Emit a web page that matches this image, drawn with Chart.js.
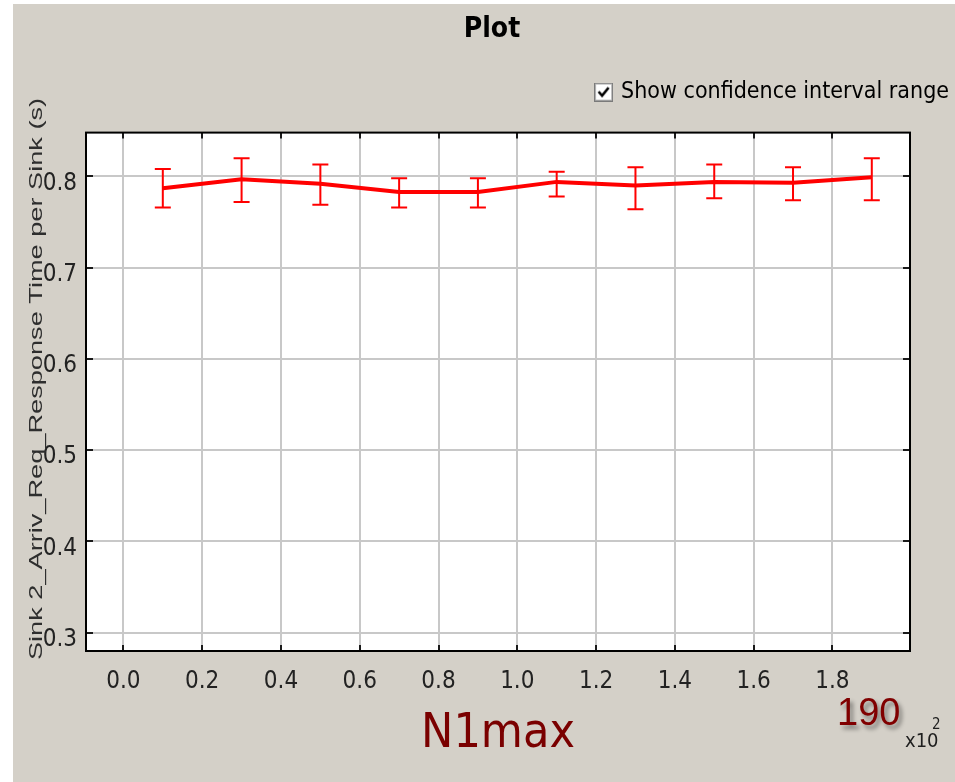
<!DOCTYPE html>
<html>
<head>
<meta charset="utf-8">
<title>Plot</title>
<script src="https://cdn.jsdelivr.net/npm/chart.js@4.4.1/dist/chart.umd.min.js"></script>
<style>
  html, body { margin: 0; padding: 0; background: #ffffff; }
</style>
</head>
<body>
<canvas id="chart" width="955" height="782"></canvas>
<script>
// N1max values of the runs (axis shown in units of x10^2)
const n1max = [0.1, 0.3, 0.5, 0.7, 0.9, 1.1, 1.3, 1.5, 1.7, 1.9];
// mean response time per sink (s)
const meanTime = [0.787, 0.797, 0.792, 0.783, 0.783, 0.794, 0.790, 0.794, 0.793, 0.799];
// confidence interval range
const ciLow  = [0.766, 0.772, 0.769, 0.766, 0.766, 0.778, 0.764, 0.776, 0.774, 0.774];
const ciHigh = [0.808, 0.820, 0.813, 0.798, 0.798, 0.805, 0.810, 0.813, 0.810, 0.820];
// tick labels
const xTicks = [0.0, 0.2, 0.4, 0.6, 0.8, 1.0, 1.2, 1.4, 1.6, 1.8];
const yTicks = [0.3, 0.4, 0.5, 0.6, 0.7, 0.8];

const yTitle = "Sink 2_Arriv_Req_Response Time per Sink (s)";
const xTitle = "N1max";
const maxLabel = "190";
const legendText = "Show confidence interval range";

const NARROW = '"Liberation Sans Narrow", "DejaVu Sans Condensed", sans-serif';
const SANS = '"Liberation Sans", Arial, sans-serif';

// little checked box for the legend
function makeCheckbox() {
  const c = document.createElement("canvas");
  c.width = 19; c.height = 19;
  const g = c.getContext("2d");
  g.fillStyle = "#ffffff";
  g.fillRect(0, 0, 19, 19);
  g.strokeStyle = "#7a7a7a";
  g.lineWidth = 1;
  g.strokeRect(0.5, 0.5, 18, 18);
  g.strokeStyle = "#b8b8b8";
  g.strokeRect(1.5, 1.5, 16, 16);
  g.strokeStyle = "#000000";
  g.lineWidth = 2.6;
  g.beginPath();
  g.moveTo(4.5, 9);
  g.lineTo(8, 13);
  g.lineTo(14.5, 5);
  g.stroke();
  return c;
}
const checkbox = makeCheckbox();

const plotFrame = {
  id: "plotFrame",
  beforeDraw(chart) {
    const { ctx, chartArea: a } = chart;
    ctx.save();
    ctx.fillStyle = "#ffffff";
    ctx.fillRect(0, 0, chart.width, chart.height);
    ctx.fillStyle = "#d4d0c8";
    ctx.fillRect(13, 4, chart.width - 13, chart.height - 4);
    ctx.fillStyle = "#ffffff";
    ctx.fillRect(a.left, a.top, a.right - a.left, a.bottom - a.top);
    ctx.restore();
  },
  afterDatasetsDraw(chart) {
    const { ctx } = chart;
    const xs = chart.scales.x, ys = chart.scales.y;
    ctx.save();
    ctx.strokeStyle = "#ff0000";
    ctx.lineWidth = 2;
    for (let i = 0; i < n1max.length; i++) {
      const px = xs.getPixelForValue(n1max[i]);
      const top = ys.getPixelForValue(ciHigh[i]);
      const bot = ys.getPixelForValue(ciLow[i]);
      ctx.beginPath();
      ctx.moveTo(px, top); ctx.lineTo(px, bot);
      ctx.moveTo(px - 8, top); ctx.lineTo(px + 8, top);
      ctx.moveTo(px - 8, bot); ctx.lineTo(px + 8, bot);
      ctx.stroke();
    }
    ctx.restore();
  },
  afterDraw(chart) {
    const { ctx, chartArea: a } = chart;
    const xs = chart.scales.x, ys = chart.scales.y;
    ctx.save();
    // inward tick marks
    ctx.strokeStyle = "#1a1a1a";
    ctx.lineWidth = 2;
    ctx.beginPath();
    xs.ticks.forEach(t => {
      const px = Math.round(xs.getPixelForValue(t.value));
      ctx.moveTo(px, a.top); ctx.lineTo(px, a.top + 6);
      ctx.moveTo(px, a.bottom); ctx.lineTo(px, a.bottom - 6);
    });
    ys.ticks.forEach(t => {
      const py = Math.round(ys.getPixelForValue(t.value));
      ctx.moveTo(a.left, py); ctx.lineTo(a.left + 7, py);
      ctx.moveTo(a.right, py); ctx.lineTo(a.right - 7, py);
    });
    ctx.stroke();
    // frame
    ctx.strokeStyle = "#000000";
    ctx.lineWidth = 2;
    ctx.strokeRect(a.left, a.top, a.right - a.left, a.bottom - a.top);

    // y axis title, stretched like the original
    ctx.save();
    ctx.translate(37, 379);
    ctx.rotate(-Math.PI / 2);
    ctx.scale(1.43, 1);
    ctx.fillStyle = "#2e2e2e";
    ctx.font = "19px " + SANS;
    ctx.textAlign = "center";
    ctx.textBaseline = "middle";
    ctx.fillText(yTitle, 0, 0);
    ctx.restore();

    // "190" marker with its shadow
    ctx.save();
    ctx.font = "38px " + SANS;
    ctx.fillStyle = "#800000";
    ctx.textAlign = "left";
    ctx.textBaseline = "alphabetic";
    ctx.shadowColor = "rgba(0,0,0,0.4)";
    ctx.shadowOffsetX = 3;
    ctx.shadowOffsetY = 4;
    ctx.shadowBlur = 4;
    ctx.fillText(maxLabel, 837, 725);
    ctx.restore();

    // x10^2 multiplier
    ctx.fillStyle = "#1e1e1e";
    ctx.textAlign = "left";
    ctx.textBaseline = "alphabetic";
    ctx.font = "20px " + NARROW;
    ctx.fillText("x10", 905, 747);
    ctx.font = "15px " + NARROW;
    ctx.fillText("2", 932, 729);
    ctx.restore();
  }
};

const config = {
  type: "line",
  data: {
    datasets: [
      {
        label: yTitle,
        data: n1max.map((v, i) => ({ x: v, y: meanTime[i] })),
        borderColor: "#ff0000",
        backgroundColor: "#ff0000",
        borderWidth: 4,
        pointRadius: 0,
        tension: 0,
        fill: false
      }
    ]
  },
  options: {
    responsive: false,
    animation: false,
    devicePixelRatio: 1,
    layout: { padding: { left: 29, right: 0, top: 0, bottom: 0 } },
    plugins: {
      title: {
        display: true,
        text: "Plot",
        color: "#000000",
        font: { family: NARROW, size: 28, weight: "bold" },
        padding: { top: 13, bottom: 28 }
      },
      legend: {
        display: true,
        position: "top",
        align: "end",
        onClick: null,
        labels: {
          usePointStyle: true,
          boxWidth: 12,
          padding: 6,
          color: "#141414",
          font: { family: NARROW, size: 23 },
          generateLabels: () => [{
            text: legendText,
            pointStyle: checkbox,
            fillStyle: "#ffffff",
            strokeStyle: "#000000",
            lineWidth: 0,
            hidden: false,
            datasetIndex: 0
          }]
        }
      },
      tooltip: { enabled: false }
    },
    scales: {
      x: {
        type: "linear",
        min: -0.095,
        max: 1.997,
        afterBuildTicks: s => { s.ticks = xTicks.map(v => ({ value: v })); },
        afterFit: s => { s.height = 131; },
        grid: { color: "#c8c8c8", lineWidth: 2, drawTicks: false },
        border: { display: false },
        ticks: {
          callback: v => v.toFixed(1),
          color: "#222222",
          font: { family: NARROW, size: 24 },
          padding: 16,
          maxRotation: 0,
          autoSkip: false
        },
        title: {
          display: true,
          text: xTitle,
          color: "#7a0000",
          font: { family: NARROW, size: 48 },
          padding: { top: 0, bottom: 19 }
        }
      },
      // spacer between the legend and the plot box
      xTop: {
        type: "linear",
        position: "top",
        min: 0,
        max: 1,
        afterFit: s => { s.height = 19; },
        grid: { display: false, drawTicks: false },
        border: { display: false },
        ticks: { display: false }
      },
      y: {
        type: "linear",
        min: 0.28,
        max: 0.848,
        afterBuildTicks: s => { s.ticks = yTicks.map(v => ({ value: v })); },
        afterFit: s => { s.width = 57; },
        grid: { color: "#c8c8c8", lineWidth: 2, drawTicks: false },
        border: { display: false },
        ticks: {
          callback: v => v.toFixed(1),
          color: "#222222",
          font: { family: NARROW, size: 24 },
          padding: 9,
          labelOffset: 7
        }
      },
      y2: {
        type: "linear",
        position: "right",
        min: 0,
        max: 1,
        afterFit: s => { s.width = 45; },
        grid: { display: false, drawTicks: false },
        border: { display: false },
        ticks: { display: false }
      }
    }
  },
  plugins: [plotFrame]
};

new Chart(document.getElementById("chart"), config);
</script>
</body>
</html>
